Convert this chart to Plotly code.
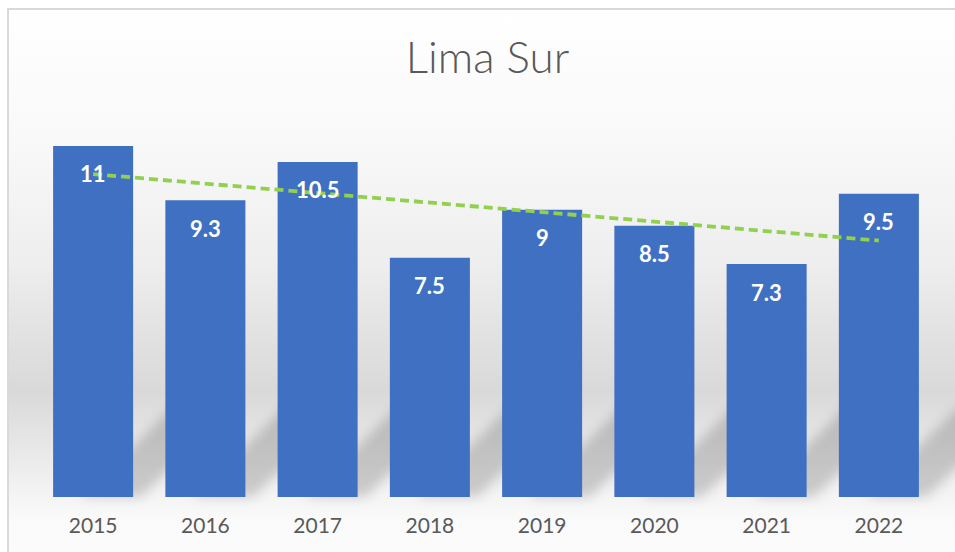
import base64
import numpy as np
import plotly.graph_objects as go

years = ["2015", "2016", "2017", "2018", "2019", "2020", "2021", "2022"]
values = [11, 9.3, 10.5, 7.5, 9, 8.5, 7.3, 9.5]
labels = ["11", "9.3", "10.5", "7.5", "9", "8.5", "7.3", "9.5"]
title_text = "Lima Sur"

W, H = 955, 552
ML, MR, MT, MB = 37, 20, 114, 55
PW, PH = W - ML - MR, H - MT - MB
BARGAP = 0.287

# linear trendline fitted to the data
idx = np.arange(1, len(values) + 1)
slope, intercept = np.polyfit(idx, values, 1)
trend = slope * idx + intercept

# soft diagonal shadows to the right of the bars, placed from the category scale
step = PW / len(years)
half = step * (1 - BARGAP) / 2
base_y = MT + PH
shadows = []
for i in range(len(years)):
    c = ML + (i + 0.5) * step
    R = c + half
    pts = [(R + 40, base_y - 90), (R + 100, base_y - 90), (R + 8, base_y), (R - 52, base_y)]
    shadows.append('<polygon points="' + " ".join(f"{x:.1f},{y:.1f}" for x, y in pts) + '"/>')

svg = f'''<svg xmlns="http://www.w3.org/2000/svg" width="{W}" height="{H}" viewBox="0 0 {W} {H}">
<defs><linearGradient id="g" x1="0" y1="0" x2="0" y2="1">
<stop offset="0" stop-color="#ffffff"/>
<stop offset="0.25" stop-color="#f8f8f8"/>
<stop offset="0.45" stop-color="#eeeeee"/>
<stop offset="0.60" stop-color="#e0e0e0"/>
<stop offset="0.68" stop-color="#d9d9d9"/>
<stop offset="0.77" stop-color="#e6e6e6"/>
<stop offset="0.86" stop-color="#f3f3f3"/>
<stop offset="0.91" stop-color="#fafafa"/>
<stop offset="1" stop-color="#fcfcfc"/>
</linearGradient>
<filter id="b" x="-30%" y="-30%" width="160%" height="160%"><feGaussianBlur stdDeviation="6"/></filter>
</defs>
<rect x="0" y="0" width="{W}" height="{H}" fill="#ffffff"/>
<rect x="8" y="9" width="{W+10}" height="{H+10}" fill="url(#g)" stroke="#d9d9d9" stroke-width="2"/>
<g fill="#000000" fill-opacity="0.17" filter="url(#b)">{''.join(shadows)}</g>
</svg>'''
src = "data:image/svg+xml;base64," + base64.b64encode(svg.encode()).decode()

fig = go.Figure()
fig.add_trace(go.Bar(
    x=years, y=values,
    marker=dict(color="#4070C2", line=dict(width=0)),
    hoverinfo="skip",
))
fig.add_trace(go.Scatter(
    x=years, y=trend, mode="lines",
    line=dict(color="#92D050", width=3.8, dash="9px,5px"),
    hoverinfo="skip",
))

for i, (v, lab) in enumerate(zip(values, labels)):
    fig.add_annotation(
        x=i, y=v, text=f"<b>{lab}</b>", showarrow=False,
        yanchor="middle", yshift=-28,
        font=dict(family="Lato", size=22, color="#ffffff"),
    )

fig.add_layout_image(dict(
    source=src, xref="paper", yref="paper",
    x=-ML / PW, y=1 + MT / PH, sizex=W / PW, sizey=H / PH,
    xanchor="left", yanchor="top", sizing="stretch", layer="below",
))

fig.update_layout(
    width=W, height=H,
    margin=dict(l=ML, r=MR, t=MT, b=MB),
    paper_bgcolor="#ffffff", plot_bgcolor="rgba(0,0,0,0)",
    showlegend=False,
    hovermode=False,
    bargap=BARGAP,
    title=dict(text=title_text, x=487.5 / W, xanchor="center", y=1 - 58 / H, yanchor="middle",
               font=dict(family="Lato", size=44, color="#595959", weight=300)),
    xaxis=dict(type="category", range=[-0.5, len(years) - 0.5], autorange=False,
               showgrid=False, zeroline=False, showline=False,
               ticks="", tickfont=dict(family="Lato", size=21, color="#595959"),
               ticklabelstandoff=14),
    yaxis=dict(range=[0, 12], autorange=False, visible=False, showgrid=False, zeroline=False),
)

fig.write_html(
    "out.html",
    config={"displayModeBar": False, "staticPlot": True},
    post_script="document.body.style.margin='0';document.body.style.overflow='hidden';",
)
